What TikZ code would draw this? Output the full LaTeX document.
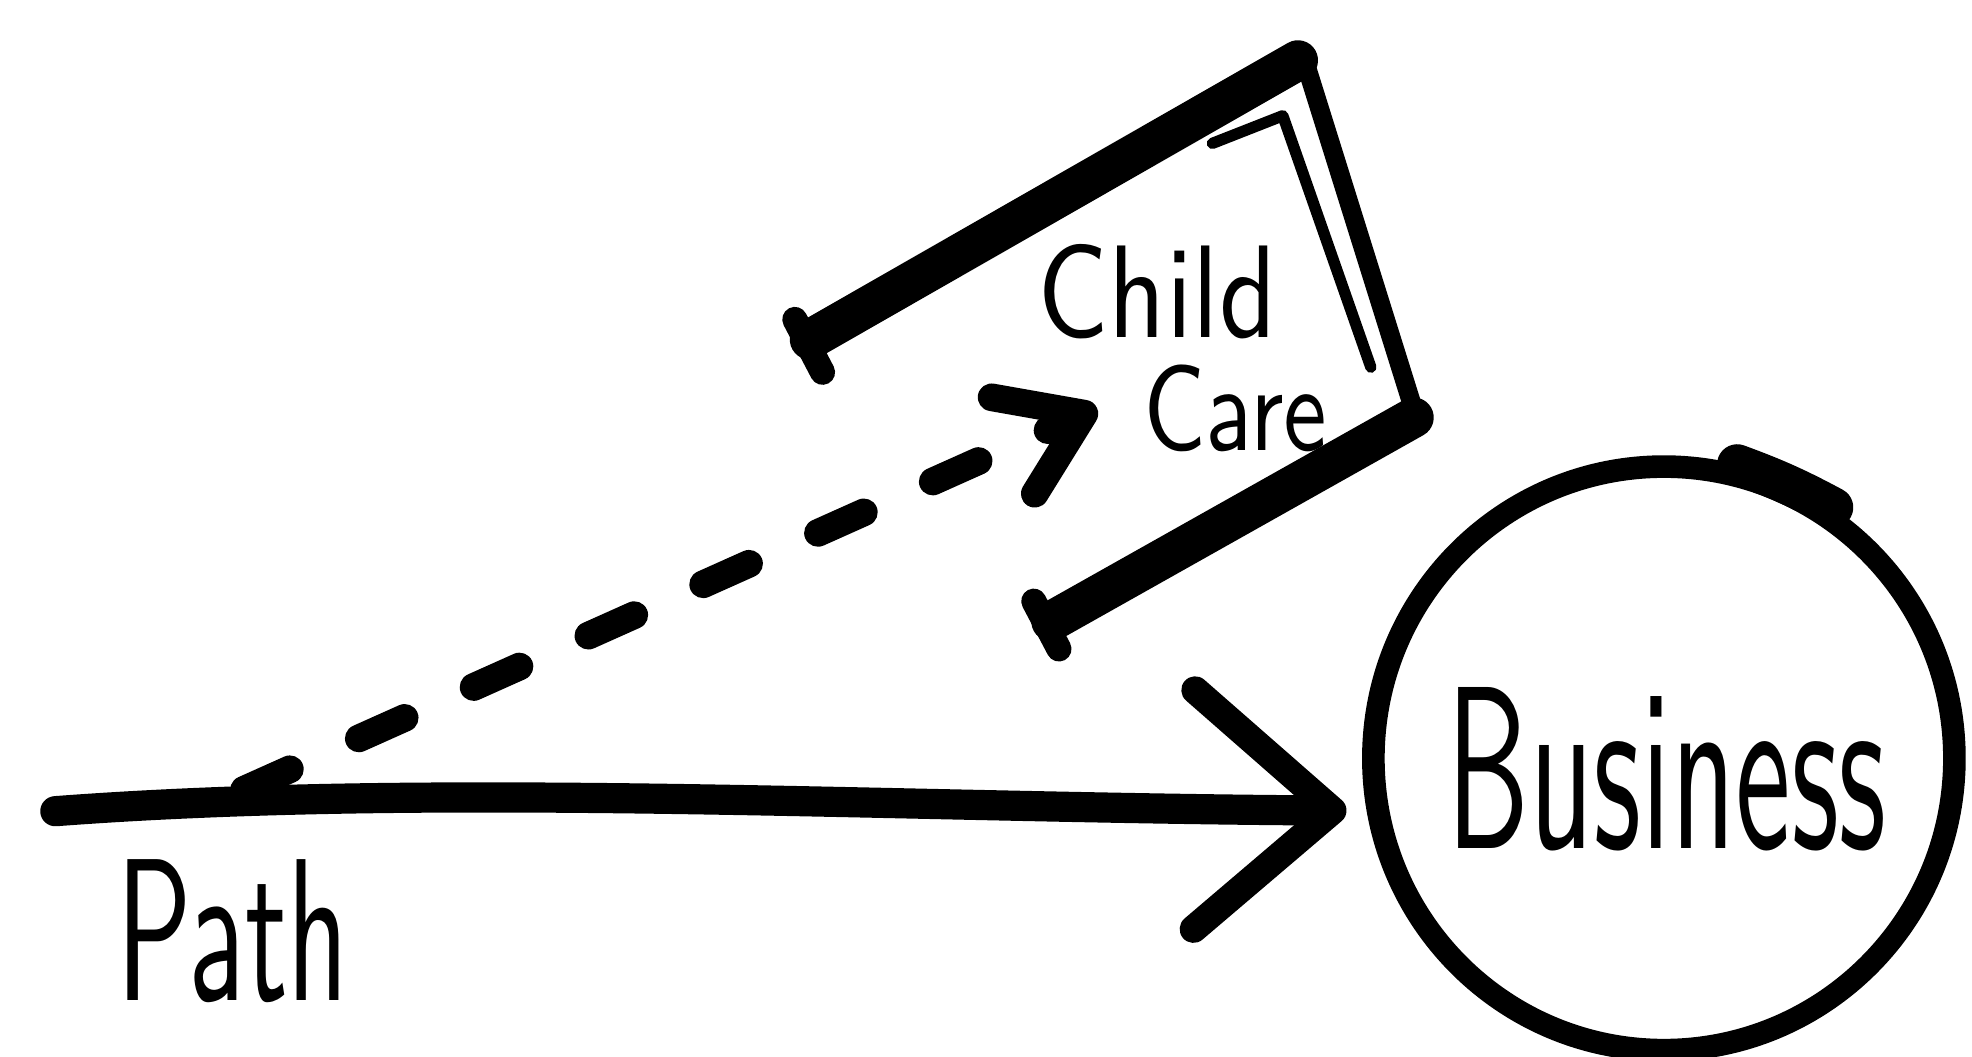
\documentclass[tikz,border=0pt]{standalone}
\usepackage{graphicx}
\usepackage{tikz}
\usetikzlibrary{arrows.meta,positioning,shapes.geometric}

\newcommand{\handword}[3]{\resizebox{#1}{#2}{\sffamily #3}}

\begin{document}
\begin{tikzpicture}[
    x=1pt, y=-1pt,
    ink/.style={draw=black, line cap=round, line join=round},
    stroke/.style={ink, line width=24pt},
    heavy/.style={ink, line width=32pt},
    pen/.style={ink, line width=12pt},
    word/.style={inner sep=0pt, text=black},
    bubble/.style={ellipse, draw, line width=18pt, minimum width=462pt, minimum height=464pt, inner sep=0pt},
    patharrow/.style={stroke, -{Straight Barb[round, length=110pt, width=190pt, line width=22pt]}},
    dasharrow/.style={stroke, line width=22pt, dash pattern=on 40pt off 60pt, -{Straight Barb[round, length=62pt, width=84pt, line width=22pt]}}
]
\useasboundingbox (0,0) rectangle (1568,840);
% labels
\node[word] (pathlabel) at (185,740) {\handword{185pt}{112pt}{Path}};
\node[word] (child) at (920,232) {\handword{190pt}{74pt}{Child}};
\node[word] (care) at (982,325) {\handword{146pt}{68pt}{Care}};
\node[bubble] (business) at (1323,603) {};
\node[word] (businesslabel) at (1325,612) {\handword{350pt}{128pt}{Business}};
\coordinate (pathstart) at (44,645);
\coordinate (dashfoot) at (194,628);
% child care bracket
\draw[heavy] (644,270) -- (1032,48);
\draw[heavy] (1124,332) -- (836,494);
\draw[pen, line width=15pt] (1036,44) -- (1126,332);
\draw[pen, line width=9pt] (964,114) -- (1020,92) -- (1090,292);
\draw[pen, line width=20pt] (632,254) -- (654,296);
\draw[pen, line width=20pt] (822,478) -- (842,516);
\draw[ink, line width=32pt] (business.56) to[bend right=4] (business.76);
% arrows
\draw[patharrow, shorten >=16pt] (pathstart) .. controls (350,622) and (700,642) .. (business.190);
\draw[dasharrow, shorten >=40pt] (dashfoot) -- (care.167);
\end{tikzpicture}
\end{document}
